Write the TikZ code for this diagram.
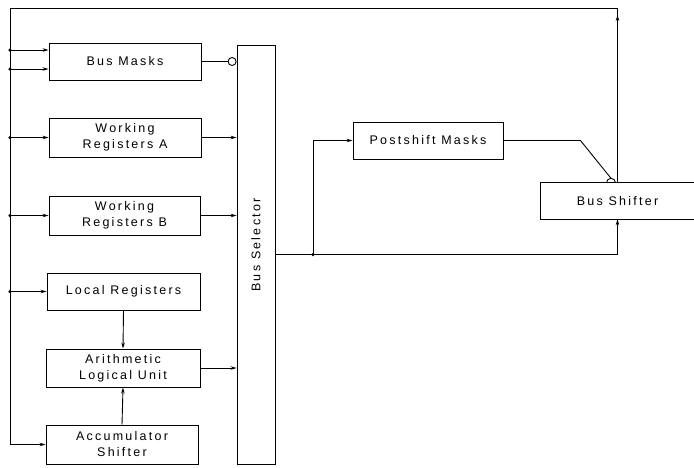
\documentclass[tikz,border=0pt]{standalone}
\usepackage{fontspec}
\setmainfont{Liberation Sans}[LetterSpace=18]
\usetikzlibrary{calc,arrows.meta}
\begin{document}
\begin{tikzpicture}[x=1pt,y=-1pt,
  every node/.style={font=\fontsize{12.5}{16}\selectfont},
  box/.style={draw,line width=0.9pt,rectangle,align=center,inner sep=0pt},
  wire/.style={line width=0.9pt},
  arr/.style={wire,-{Stealth[length=6pt,width=3.5pt]}},
  jdot/.style={circle,fill,inner sep=0pt,minimum size=3.5pt}]
\useasboundingbox (0,0) rectangle (694,467);
% boxes
\node[box,minimum width=152pt,minimum height=37pt] (bm) at (125,61.5) {Bus Masks};
\node[box,minimum width=152pt,minimum height=39pt] (wra) at (125,137.5) {Working\\Registers A};
\node[box,minimum width=151pt,minimum height=39pt] (wrb) at (124.5,215.5) {Working\\Registers B};
\node[box,minimum width=153pt,minimum height=37pt] (lr) at (123.5,291.5) {Local Registers};
\node[box,minimum width=154pt,minimum height=38pt] (alu) at (123,368) {Arithmetic\\Logical Unit};
\node[box,minimum width=152pt,minimum height=39pt] (as) at (122,444.5) {Accumulator\\Shifter};
\node[box,minimum width=38pt,minimum height=419pt] (bsel) at (256,254.5) {};
\node[rotate=90] (bselt) at (256,245) {Bus Selector};
\node[box,minimum width=150pt,minimum height=37pt] (ps) at (428,140.5) {Postshift Masks};
\node[inner sep=0pt,minimum width=153pt,minimum height=36pt] (bs) at (617.5,201) {Bus Shifter};
\draw[wire] (bs.north east) -- (bs.north west) -- (bs.south west) -- (bs.south east);
% coordinates
\coordinate (tl) at (10,8);
\coordinate (tr) at (bs.north |- tl);
\coordinate (bl) at (tl |- as.west);
\coordinate (bmi1) at ($(bm.west)+(0,-11.5)$);
\coordinate (bmi2) at ($(bm.west)+(0,7.5)$);
\coordinate (j) at (313,254.5);
\coordinate (sc) at ($(bs.north)+(-6.5,0)$);
% feedback bus
\draw[wire] (bs.north) -- (tr) -- (tl) -- (bl);
\draw[arr] ([yshift=-16pt]tr) -- ([yshift=-7pt]tr);
\draw[arr] (bl) -- (as.west);
% left inputs
\draw[arr] (tl |- bmi1) -- (bmi1);
\draw[arr] (tl |- bmi2) -- (bmi2);
\draw[arr] (tl |- wra.west) -- (wra.west);
\draw[arr] (tl |- wrb.west) -- (wrb.west);
\draw[arr] (tl |- lr.west) -- (lr.west);
\foreach \p in {bmi1,bmi2,wra.west,wrb.west,lr.west} \node[jdot] at (tl |- \p) {};
% to bus selector
\node[circle,draw,line width=0.9pt,inner sep=0pt,minimum size=8pt,anchor=east] (bmc) at (bsel.west |- bm.east) {};
\draw[wire] (bm.east) -- (bmc.west);
\draw[arr] (wra.east) -- (wra.east -| bsel.west);
\draw[arr] (wrb.east) -- (wrb.east -| bsel.west);
\draw[arr] (alu.east) -- (alu.east -| bsel.west);
% ALU links
\draw[arr] (lr.south) -- (alu.north);
\draw[arr] (as.north) -- (alu.south);
% bus selector output
\draw[wire] (bsel.east) -- (j);
\draw[arr] (j) -- (j -| bs.south) -- (bs.south);
\draw[arr] (j) |- (ps.west);
\node[jdot] at (j) {};
% postshift masks to bus shifter
\draw[wire] ($(sc)+(-4.5,0)$) arc[start angle=180,end angle=0,radius=4.5pt];
\draw[wire] (ps.east) -- ++(77,0) coordinate (pk) -- ($(sc)+(0,-4.5)$);
\end{tikzpicture}
\end{document}
